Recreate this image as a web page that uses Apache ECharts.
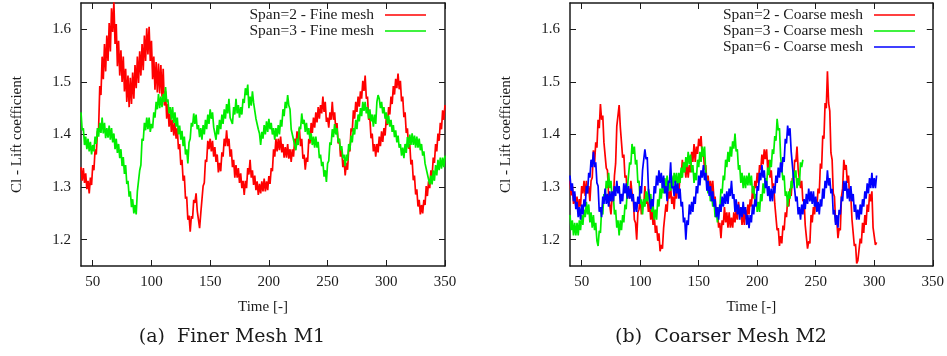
<!DOCTYPE html>
<html><head><meta charset="utf-8">
<script src="https://cdn.jsdelivr.net/npm/echarts@6/dist/echarts.min.js"></script>
<style>html,body{margin:0;padding:0;background:#fff}#c{width:947px;height:356px}</style>
</head><body><div id="c"></div>
<script>
// ---- tick labels ----
const xTickValues = [50,100,150,200,250,300,350];
const yTickValues = [1.2,1.3,1.4,1.5,1.6];
const xAxisTitle = 'Time [-]';
const yAxisTitle = 'Cl - Lift coefficient';
const captionA = '(a)  Finer Mesh M1';
const captionB = '(b)  Coarser Mesh M2';
const namesA = ['Span=2 - Fine mesh','Span=3 - Fine mesh'];
const namesB = ['Span=2 - Coarse mesh','Span=3 - Coarse mesh','Span=6 - Coarse mesh'];

// ---- (a) fine mesh, t = 40..350, step 1 ----
const fineStart = 40;
const fineSpan2 = [
1.338,1.312,1.336,1.308,1.326,1.296,1.312,1.288,1.318,1.304,
1.342,1.332,1.372,1.362,1.405,1.412,1.492,1.475,1.548,1.505,
1.572,1.520,1.588,1.540,1.612,1.558,1.640,1.595,1.652,1.572,
1.610,1.530,1.578,1.512,1.560,1.500,1.548,1.482,1.525,1.462,
1.512,1.452,1.508,1.458,1.518,1.468,1.532,1.488,1.548,1.498,
1.558,1.512,1.572,1.522,1.588,1.540,1.602,1.552,1.605,1.540,
1.578,1.505,1.548,1.485,1.538,1.480,1.535,1.478,1.532,1.472,
1.525,1.455,1.482,1.430,1.458,1.415,1.440,1.405,1.428,1.398,
1.422,1.392,1.412,1.372,1.382,1.342,1.352,1.312,1.322,1.278,
1.282,1.238,1.246,1.215,1.245,1.240,1.276,1.270,1.288,1.255,
1.256,1.222,1.250,1.250,1.302,1.308,1.352,1.348,1.388,1.372,
1.392,1.368,1.388,1.358,1.376,1.348,1.362,1.328,1.346,1.330,
1.366,1.358,1.392,1.378,1.408,1.378,1.392,1.358,1.372,1.338,
1.352,1.318,1.342,1.318,1.336,1.308,1.326,1.298,1.312,1.285,
1.312,1.298,1.336,1.324,1.352,1.318,1.332,1.304,1.322,1.294,
1.311,1.285,1.306,1.288,1.311,1.292,1.316,1.292,1.311,1.294,
1.321,1.306,1.336,1.330,1.372,1.358,1.392,1.368,1.392,1.370,
1.396,1.366,1.382,1.356,1.376,1.356,1.382,1.354,1.372,1.348,
1.372,1.358,1.392,1.376,1.406,1.388,1.412,1.378,1.392,1.354,
1.362,1.333,1.356,1.348,1.392,1.383,1.422,1.403,1.432,1.413,
1.442,1.423,1.452,1.430,1.456,1.440,1.472,1.443,1.462,1.424,
1.432,1.413,1.442,1.428,1.462,1.428,1.442,1.408,1.422,1.383,
1.392,1.358,1.372,1.338,1.352,1.322,1.346,1.333,1.372,1.368,
1.412,1.406,1.446,1.430,1.462,1.443,1.472,1.453,1.482,1.468,
1.502,1.483,1.512,1.468,1.472,1.428,1.432,1.393,1.402,1.368,
1.382,1.358,1.382,1.366,1.396,1.378,1.406,1.386,1.412,1.398,
1.432,1.418,1.452,1.438,1.472,1.458,1.492,1.476,1.506,1.488,
1.516,1.486,1.502,1.463,1.472,1.433,1.442,1.403,1.412,1.373,
1.382,1.343,1.352,1.313,1.322,1.286,1.296,1.263,1.276,1.248,
1.266,1.250,1.276,1.266,1.302,1.283,1.311,1.298,1.332,1.320,
1.356,1.346,1.382,1.368,1.402,1.388,1.422,1.410,1.446,1.428,
1.456];
const fineSpan3 = [
1.442,1.408,1.412,1.380,1.396,1.372,1.392,1.368,1.386,1.362,
1.380,1.368,1.396,1.382,1.412,1.396,1.422,1.403,1.432,1.402,
1.422,1.393,1.412,1.394,1.417,1.390,1.412,1.385,1.402,1.372,
1.392,1.365,1.382,1.355,1.372,1.340,1.357,1.325,1.342,1.306,
1.312,1.282,1.292,1.262,1.277,1.250,1.266,1.248,1.292,1.290,
1.332,1.342,1.392,1.388,1.422,1.408,1.432,1.410,1.432,1.405,
1.420,1.412,1.442,1.432,1.462,1.448,1.477,1.450,1.472,1.452,
1.477,1.462,1.490,1.462,1.467,1.440,1.452,1.428,1.452,1.422,
1.442,1.415,1.432,1.400,1.417,1.390,1.407,1.378,1.396,1.362,
1.372,1.345,1.385,1.392,1.422,1.415,1.440,1.420,1.438,1.410,
1.418,1.395,1.412,1.390,1.418,1.400,1.428,1.410,1.438,1.420,
1.448,1.430,1.442,1.414,1.415,1.390,1.418,1.400,1.428,1.410,
1.438,1.420,1.448,1.430,1.458,1.440,1.468,1.432,1.430,1.420,
1.452,1.438,1.468,1.440,1.456,1.432,1.452,1.438,1.468,1.460,
1.488,1.475,1.495,1.450,1.472,1.455,1.482,1.460,1.458,1.430,
1.432,1.410,1.402,1.380,1.405,1.392,1.418,1.400,1.425,1.405,
1.430,1.410,1.422,1.400,1.412,1.390,1.412,1.396,1.418,1.400,
1.428,1.415,1.448,1.435,1.462,1.450,1.475,1.455,1.448,1.410,
1.412,1.390,1.392,1.370,1.392,1.380,1.415,1.410,1.440,1.420,
1.428,1.405,1.422,1.400,1.412,1.390,1.402,1.380,1.396,1.375,
1.396,1.375,1.386,1.355,1.362,1.340,1.348,1.320,1.332,1.310,
1.345,1.350,1.385,1.380,1.410,1.395,1.420,1.400,1.412,1.385,
1.392,1.370,1.378,1.355,1.362,1.340,1.362,1.350,1.382,1.370,
1.398,1.385,1.412,1.400,1.428,1.410,1.438,1.425,1.450,1.435,
1.462,1.445,1.462,1.440,1.452,1.430,1.448,1.425,1.438,1.415,
1.438,1.420,1.462,1.475,1.468,1.450,1.462,1.440,1.452,1.430,
1.442,1.420,1.436,1.415,1.428,1.405,1.418,1.395,1.408,1.385,
1.398,1.375,1.382,1.360,1.375,1.355,1.382,1.365,1.395,1.375,
1.400,1.380,1.402,1.380,1.398,1.375,1.396,1.375,1.392,1.370,
1.382,1.360,1.368,1.345,1.348,1.325,1.328,1.305,1.322,1.305,
1.332,1.312,1.342,1.322,1.352,1.332,1.356,1.335,1.356,1.338,
1.360];

// ---- (b) coarse mesh, start t = 40, step 1 ----
const coarseStart = 40;
const coarseSpan2 = [
1.312,1.284,1.302,1.268,1.287,1.263,1.282,1.253,1.277,1.263,
1.302,1.288,1.312,1.283,1.312,1.288,1.302,1.273,1.312,1.318,
1.370,1.345,1.385,1.375,1.428,1.412,1.458,1.428,1.436,1.385,
1.384,1.336,1.332,1.283,1.282,1.248,1.282,1.273,1.322,1.345,
1.416,1.414,1.456,1.414,1.414,1.356,1.362,1.318,1.322,1.278,
1.297,1.278,1.312,1.288,1.282,1.238,1.232,1.200,1.252,1.258,
1.282,1.248,1.272,1.263,1.302,1.268,1.282,1.253,1.272,1.238,
1.257,1.228,1.247,1.213,1.227,1.198,1.212,1.178,1.190,1.183,
1.222,1.223,1.267,1.253,1.292,1.278,1.302,1.268,1.282,1.258,
1.292,1.278,1.307,1.288,1.322,1.318,1.352,1.328,1.347,1.318,
1.347,1.318,1.342,1.328,1.367,1.348,1.382,1.348,1.377,1.363,
1.392,1.378,1.397,1.358,1.367,1.333,1.342,1.308,1.322,1.293,
1.312,1.288,1.312,1.278,1.282,1.243,1.257,1.223,1.232,1.203,
1.237,1.228,1.262,1.233,1.252,1.223,1.252,1.223,1.242,1.223,
1.252,1.233,1.257,1.238,1.272,1.248,1.262,1.228,1.252,1.228,
1.257,1.238,1.267,1.248,1.277,1.263,1.297,1.278,1.312,1.298,
1.327,1.308,1.342,1.333,1.362,1.343,1.372,1.353,1.372,1.333,
1.352,1.318,1.332,1.298,1.307,1.268,1.267,1.218,1.222,1.188,
1.207,1.193,1.227,1.218,1.252,1.243,1.277,1.263,1.297,1.283,
1.317,1.308,1.352,1.348,1.377,1.333,1.332,1.298,1.312,1.273,
1.277,1.228,1.227,1.183,1.197,1.193,1.247,1.233,1.262,1.248,
1.277,1.263,1.297,1.288,1.345,1.335,1.398,1.392,1.460,1.450,
1.520,1.460,1.445,1.365,1.352,1.288,1.282,1.233,1.237,1.203,
1.222,1.218,1.282,1.298,1.352,1.333,1.342,1.308,1.322,1.278,
1.282,1.238,1.237,1.188,1.192,1.155,1.160,1.162,1.202,1.193,
1.232,1.213,1.247,1.228,1.267,1.253,1.287,1.273,1.292,1.223,
1.220,1.190,1.195];
const coarseSpan3 = [
1.247,1.218,1.237,1.208,1.232,1.208,1.232,1.208,1.237,1.218,
1.247,1.228,1.257,1.243,1.272,1.248,1.267,1.233,1.252,1.223,
1.247,1.218,1.232,1.198,1.188,1.217,1.213,1.257,1.248,1.287,
1.278,1.312,1.298,1.327,1.298,1.312,1.278,1.287,1.248,1.257,
1.223,1.237,1.208,1.237,1.218,1.247,1.233,1.267,1.258,1.297,
1.298,1.347,1.343,1.382,1.363,1.377,1.343,1.352,1.308,1.312,
1.268,1.277,1.248,1.277,1.263,1.292,1.273,1.297,1.268,1.287,
1.253,1.267,1.238,1.257,1.238,1.277,1.263,1.297,1.278,1.307,
1.288,1.317,1.298,1.322,1.293,1.312,1.293,1.322,1.298,1.327,
1.308,1.327,1.298,1.327,1.308,1.337,1.318,1.347,1.328,1.357,
1.338,1.367,1.343,1.362,1.328,1.342,1.308,1.327,1.313,1.352,
1.338,1.367,1.348,1.377,1.358,1.377,1.328,1.327,1.288,1.302,
1.273,1.292,1.263,1.277,1.243,1.257,1.233,1.262,1.253,1.297,
1.288,1.322,1.313,1.352,1.338,1.367,1.348,1.377,1.358,1.387,
1.373,1.402,1.368,1.372,1.333,1.342,1.308,1.327,1.298,1.322,
1.298,1.322,1.303,1.327,1.303,1.322,1.288,1.302,1.273,1.287,
1.253,1.272,1.253,1.287,1.273,1.307,1.288,1.317,1.303,1.337,
1.323,1.352,1.338,1.372,1.363,1.397,1.388,1.430,1.408,1.412,
1.358,1.357,1.313,1.322,1.283,1.292,1.263,1.292,1.278,1.312,
1.298,1.332,1.318,1.332,1.298,1.317,1.303,1.347,1.338,1.352];
const coarseSpan6 = [
1.322,1.293,1.307,1.273,1.292,1.258,1.272,1.243,1.262,1.238,
1.267,1.248,1.277,1.263,1.302,1.288,1.327,1.318,1.352,1.338,
1.367,1.338,1.347,1.308,1.302,1.253,1.262,1.243,1.282,1.268,
1.297,1.268,1.287,1.263,1.292,1.273,1.292,1.273,1.302,1.283,
1.312,1.288,1.302,1.268,1.287,1.273,1.307,1.288,1.307,1.278,
1.302,1.278,1.297,1.273,1.287,1.253,1.272,1.253,1.282,1.268,
1.302,1.288,1.332,1.333,1.372,1.353,1.357,1.298,1.297,1.258,
1.277,1.263,1.302,1.288,1.322,1.303,1.332,1.308,1.327,1.298,
1.322,1.288,1.302,1.273,1.312,1.308,1.347,1.298,1.302,1.283,
1.312,1.288,1.307,1.278,1.297,1.263,1.272,1.233,1.242,1.200,
1.237,1.228,1.267,1.248,1.272,1.253,1.282,1.268,1.302,1.288,
1.322,1.303,1.332,1.318,1.342,1.313,1.327,1.293,1.312,1.283,
1.302,1.273,1.292,1.263,1.277,1.243,1.262,1.238,1.267,1.253,
1.282,1.263,1.287,1.268,1.292,1.268,1.297,1.283,1.312,1.278,
1.287,1.253,1.277,1.248,1.267,1.238,1.262,1.243,1.272,1.248,
1.262,1.228,1.247,1.222,1.247,1.233,1.267,1.248,1.277,1.263,
1.302,1.293,1.327,1.313,1.342,1.318,1.332,1.298,1.312,1.283,
1.302,1.273,1.297,1.273,1.302,1.288,1.322,1.308,1.337,1.318,
1.347,1.328,1.357,1.348,1.392,1.383,1.417,1.398,1.412,1.368,
1.367,1.318,1.317,1.273,1.282,1.248,1.262,1.238,1.267,1.248,
1.277,1.258,1.287,1.268,1.297,1.273,1.292,1.268,1.292,1.263,
1.282,1.253,1.272,1.248,1.277,1.263,1.297,1.278,1.312,1.298,
1.332,1.303,1.317,1.288,1.297,1.248,1.257,1.228,1.247,1.223,
1.257,1.248,1.282,1.273,1.312,1.293,1.312,1.278,1.297,1.273,
1.302,1.273,1.287,1.253,1.267,1.238,1.257,1.238,1.267,1.248,
1.277,1.263,1.292,1.278,1.307,1.288,1.317,1.298,1.327,1.298,
1.317,1.298,1.322];

const RED = '#ff0000', GREEN = '#00ee00', BLUE = '#0000ff';
const SERIF = "'Liberation Serif', 'Times New Roman', serif";
const INK = '#1a1a1a';

function pairs(start, arr) { return arr.map((v, i) => [start + i, v]); }

const chart = echarts.init(document.getElementById('c'), null, {renderer: 'canvas'});

const grids = [
  {left: 81, top: 3, width: 364, height: 263},
  {left: 570, top: 3, width: 363, height: 263}
];

function xAxes(g) {
  const line = {show: true, onZero: false, lineStyle: {color: INK, width: 1.5}};
  const tick = {show: true, inside: true, length: 6, customValues: xTickValues, lineStyle: {color: INK, width: 1}};
  return [
    {type: 'value', gridIndex: g, min: 40, max: 350, position: 'bottom',
     axisLine: line, axisTick: tick, splitLine: {show: false},
     axisLabel: {customValues: xTickValues, fontFamily: SERIF, fontSize: 15, color: INK, margin: 9},
     name: xAxisTitle, nameLocation: 'middle', nameGap: 34,
     nameTextStyle: {fontFamily: SERIF, fontSize: 15, color: INK}},
    {type: 'value', gridIndex: g, min: 40, max: 350, position: 'top',
     axisLine: line, axisTick: tick, splitLine: {show: false}, axisLabel: {show: false}}
  ];
}
function yAxes(g) {
  const line = {show: true, onZero: false, lineStyle: {color: INK, width: 1.5}};
  const tick = {show: true, inside: true, length: 6, customValues: yTickValues, lineStyle: {color: INK, width: 1}};
  return [
    {type: 'value', gridIndex: g, min: 1.15, max: 1.65, position: 'left',
     axisLine: line, axisTick: tick, splitLine: {show: false},
     axisLabel: {customValues: yTickValues, fontFamily: SERIF, fontSize: 15, color: INK, margin: 10,
                 formatter: v => v.toFixed(1)},
     name: yAxisTitle, nameLocation: 'middle', nameGap: 56,
     nameTextStyle: {fontFamily: SERIF, fontSize: 15, color: INK}},
    {type: 'value', gridIndex: g, min: 1.15, max: 1.65, position: 'right',
     axisLine: line, axisTick: tick, splitLine: {show: false}, axisLabel: {show: false}}
  ];
}

function lineSeries(name, color, xi, yi, data) {
  return {name, type: 'line', xAxisIndex: xi, yAxisIndex: yi, data,
    showSymbol: false, symbol: 'none', animation: false, clip: true,
    lineStyle: {color, width: 1.7}, itemStyle: {color}};
}

const legendCommon = {
  orient: 'vertical', align: 'right', itemWidth: 41, itemHeight: 14, itemGap: 0,
  icon: 'path://M0,0L41,0L41,1.6L0,1.6Z',
  textStyle: {fontFamily: SERIF, fontSize: 15.5, lineHeight: 16, color: INK, padding: [0, 6, 0, 0]},
  selectedMode: false
};

chart.setOption({
  backgroundColor: '#ffffff',
  animation: false,
  grid: grids,
  xAxis: [...xAxes(0), ...xAxes(1)],
  yAxis: [...yAxes(0), ...yAxes(1)],
  legend: [
    Object.assign({}, legendCommon, {data: namesA, right: 947 - 426 - 5, top: 2}),
    Object.assign({}, legendCommon, {data: namesB, right: 947 - 915 - 5, top: 2})
  ],
  series: [
    lineSeries(namesA[0], RED, 0, 0, pairs(fineStart, fineSpan2)),
    lineSeries(namesA[1], GREEN, 0, 0, pairs(fineStart, fineSpan3)),
    lineSeries(namesB[0], RED, 2, 2, pairs(coarseStart, coarseSpan2)),
    lineSeries(namesB[1], GREEN, 2, 2, pairs(coarseStart, coarseSpan3)),
    lineSeries(namesB[2], BLUE, 2, 2, pairs(coarseStart, coarseSpan6))
  ],
  graphic: [
    {type: 'text', style: {text: captionA, align: 'center', verticalAlign: 'middle',
      font: "19px 'DejaVu Serif', serif", fill: INK}, x: 232, y: 337},
    {type: 'text', style: {text: captionB, align: 'center', verticalAlign: 'middle',
      font: "19px 'DejaVu Serif', serif", fill: INK}, x: 721, y: 337}
  ]
});
</script></body></html>
